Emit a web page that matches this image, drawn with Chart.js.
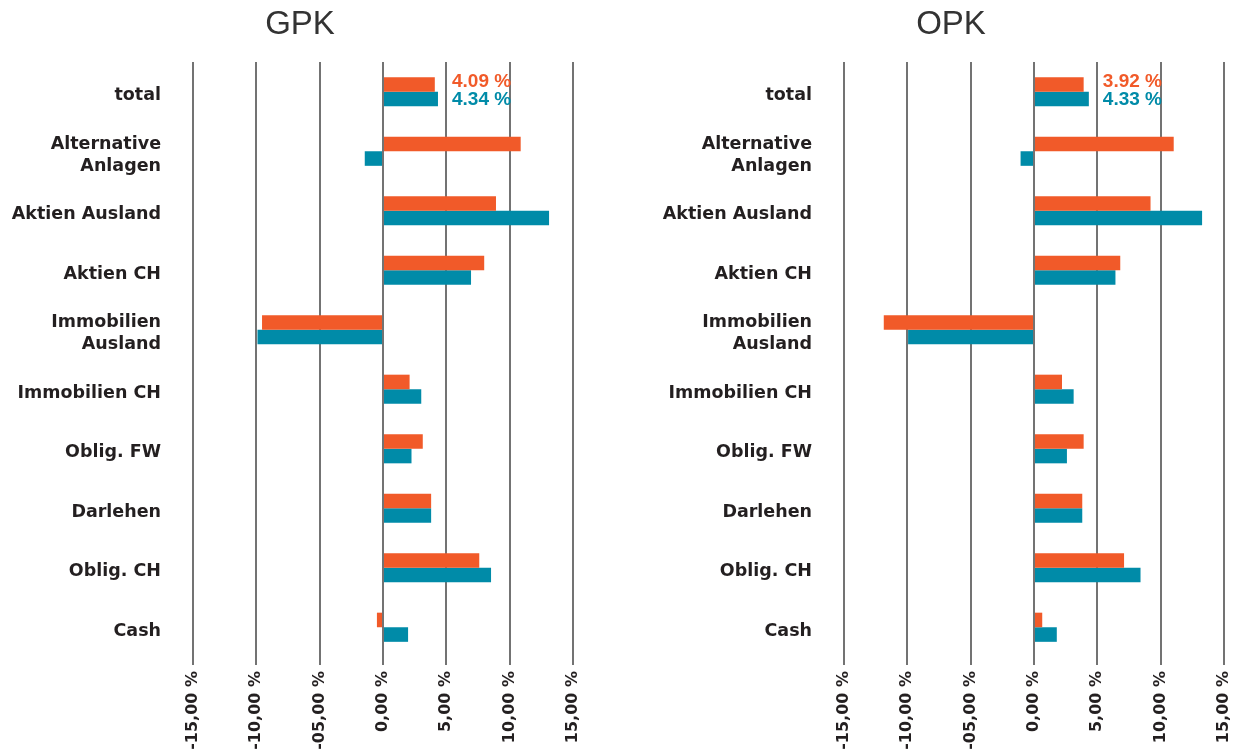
<!DOCTYPE html>
<html>
<head>
<meta charset="utf-8">
<script src="https://cdn.jsdelivr.net/npm/chart.js@4/dist/chart.umd.min.js"></script>
<style>
  html, body { margin:0; padding:0; background:#fff; overflow:hidden; }
  .box { position:absolute; top:0; width:600px; height:756px; }
  #gpk-box { left:0; }
  #opk-box { left:651px; }
</style>
</head>
<body>
<div class="box" id="gpk-box"><canvas id="gpkChart"></canvas></div>
<div class="box" id="opk-box"><canvas id="opkChart"></canvas></div>
<script>
// categories (top to bottom)
const categories = [
  'total', ['Alternative','Anlagen'], 'Aktien Ausland', 'Aktien CH', ['Immobilien','Ausland'],
  'Immobilien CH', 'Oblig. FW', 'Darlehen', 'Oblig. CH', 'Cash'
];
const xTickLabels = ['-15,00 %','-10,00 %','-05,00 %','0,00 %','5,00 %','10,00 %','15,00 %'];

// GPK values (%)
const gpkOrange = [4.09, 10.87, 8.92, 7.99, -9.55, 2.10, 3.14, 3.80, 7.60, -0.48];
const gpkTeal   = [4.34, -1.44, 13.11, 6.95, -9.91, 3.02, 2.25, 3.80, 8.53, 1.98];
const gpkTotalLabels = ['4.09 %', '4.34 %'];

// OPK values (%)
const opkOrange = [3.92, 11.03, 9.20, 6.81, -11.86, 2.21, 3.92, 3.81, 7.11, 0.65];
const opkTeal   = [4.33, -1.06, 13.27, 6.43, -9.94, 3.13, 2.60, 3.81, 8.41, 1.80];
const opkTotalLabels = ['3.92 %', '4.33 %'];

const ORANGE = '#f15a29';
const TEAL = '#008ba8';
const TEXT = '#231f20';

// draws the two percentages next to the "total" bars
const totalLabelPlugin = {
  id: 'totalLabels',
  afterDatasetsDraw(chart, args, opts){
    const ctx = chart.ctx;
    const maxVal = Math.max(...chart.data.datasets.map(d => d.data[0]));
    const x = chart.scales.x.getPixelForValue(maxVal) + 14;
    ctx.save();
    ctx.font = 'bold 19px "Liberation Sans"';
    ctx.textAlign = 'left';
    ctx.textBaseline = 'middle';
    chart.data.datasets.forEach((ds, i) => {
      const bar = chart.getDatasetMeta(i).data[0];
      ctx.fillStyle = ds.backgroundColor;
      ctx.fillText(opts.labels[i], x, bar.y + (i === 0 ? -3 : 1));
    });
    ctx.restore();
  }
};

// title centred over the whole canvas (built-in title skips the padding)
const canvasTitlePlugin = {
  id: 'canvasTitle',
  afterDraw(chart, args, opts){
    const ctx = chart.ctx;
    ctx.save();
    ctx.font = '33px "Liberation Sans"';
    ctx.fillStyle = '#333';
    ctx.textAlign = 'center';
    ctx.textBaseline = 'middle';
    ctx.fillText(opts.text, chart.width / 2, 25);
    ctx.restore();
  }
};

function makeChart(id, title, orange, teal, totalLabels){
  const ctx = document.getElementById(id).getContext('2d');
  return new Chart(ctx, {
    type: 'bar',
    data: {
      labels: categories,
      datasets: [
        { data: orange, backgroundColor: ORANGE, barPercentage: 1, categoryPercentage: 0.49 },
        { data: teal, backgroundColor: TEAL, barPercentage: 1, categoryPercentage: 0.49 }
      ]
    },
    options: {
      indexAxis: 'y',
      responsive: true,
      maintainAspectRatio: false,
      animation: false,
      layout: { padding: { left: 0, right: 27, top: 62, bottom: 0 } },
      plugins: {
        legend: { display: false },
        tooltip: { enabled: false },
        title: { display: false },
        canvasTitle: { text: title },
        totalLabels: { labels: totalLabels }
      },
      scales: {
        x: {
          min: -15, max: 15,
          ticks: {
            stepSize: 5, minRotation: 90, maxRotation: 90, padding: 6, color: TEXT,
            font: { family: 'DejaVu Sans', size: 16, weight: 'bold' },
            callback: (v, i) => xTickLabels[i]
          },
          grid: { color: '#737373', lineWidth: 2, tickLength: 8, drawTicks: true },
          border: { display: false },
          afterFit: s => { s.height = 99; }
        },
        y: {
          ticks: {
            padding: 24, labelOffset: 4, color: TEXT,
            font: { family: 'DejaVu Sans', size: 17.5, weight: 'bold', lineHeight: 1.25 }
          },
          grid: { display: false },
          border: { display: false },
          afterFit: s => { s.width = 193; }
        }
      }
    },
    plugins: [totalLabelPlugin, canvasTitlePlugin]
  });
}

makeChart('gpkChart', 'GPK', gpkOrange, gpkTeal, gpkTotalLabels);
makeChart('opkChart', 'OPK', opkOrange, opkTeal, opkTotalLabels);
</script>
</body>
</html>
